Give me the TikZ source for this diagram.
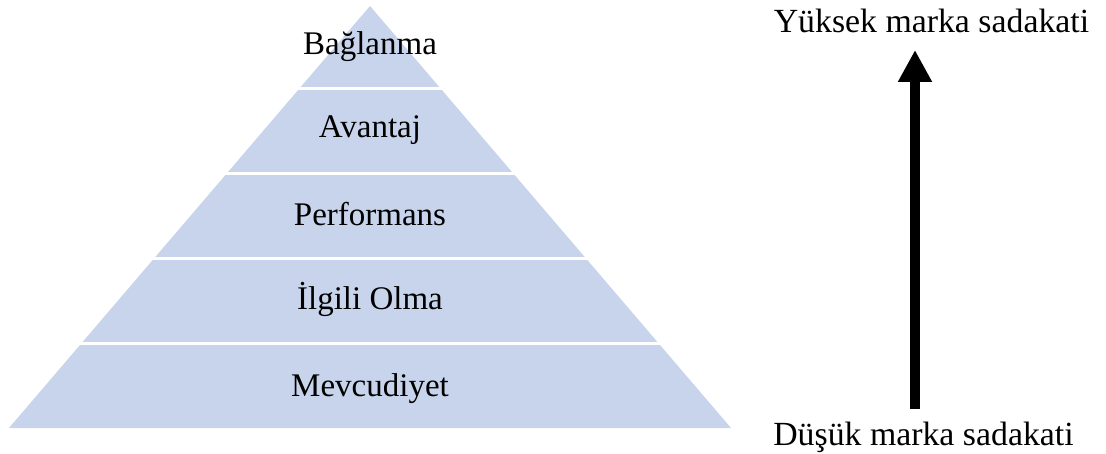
\documentclass[tikz,border=0pt]{standalone}
\usepackage{fontspec}
\setmainfont{Liberation Serif}
\usetikzlibrary{arrows.meta}
\definecolor{bandblue}{RGB}{199,212,236}
\begin{document}
\begin{tikzpicture}[x=1pt,y=-1pt,
  level/.style={anchor=base,font=\fontsize{33}{40}\selectfont,inner sep=0pt},
  sidelabel/.style={anchor=base,font=\fontsize{33.8}{40}\selectfont,inner sep=0pt},
  gap/.style={draw=white,line width=3pt}]
\useasboundingbox (0,0) rectangle (1106,454);
% pyramid body
\fill[bandblue] (370,6) -- (731,428) -- (9,428) -- cycle;
% white separators between the five levels
\foreach \yy in {89,174,259,344}
  \draw[gap] (0,\yy) -- (740,\yy);
% level labels
\node[level] (l1) at (370,55)  {Bağlanma};
\node[level] (l2) at (370,138) {Avantaj};
\node[level] (l3) at (370,226) {Performans};
\node[level] (l4) at (370,310) {İlgili Olma};
\node[level] (l5) at (370,396) {Mevcudiyet};
% loyalty axis
\node[sidelabel] (hi) at (931.5,33)  {Yüksek marka sadakati};
\node[sidelabel] (lo) at (923.5,445) {Düşük marka sadakati};
\coordinate (abot) at (915,409);
\coordinate (atop) at (915,50);
\draw[line width=10.7pt,-{Triangle[width=32pt,length=32pt]}] (abot) -- (atop);
\end{tikzpicture}
\end{document}
